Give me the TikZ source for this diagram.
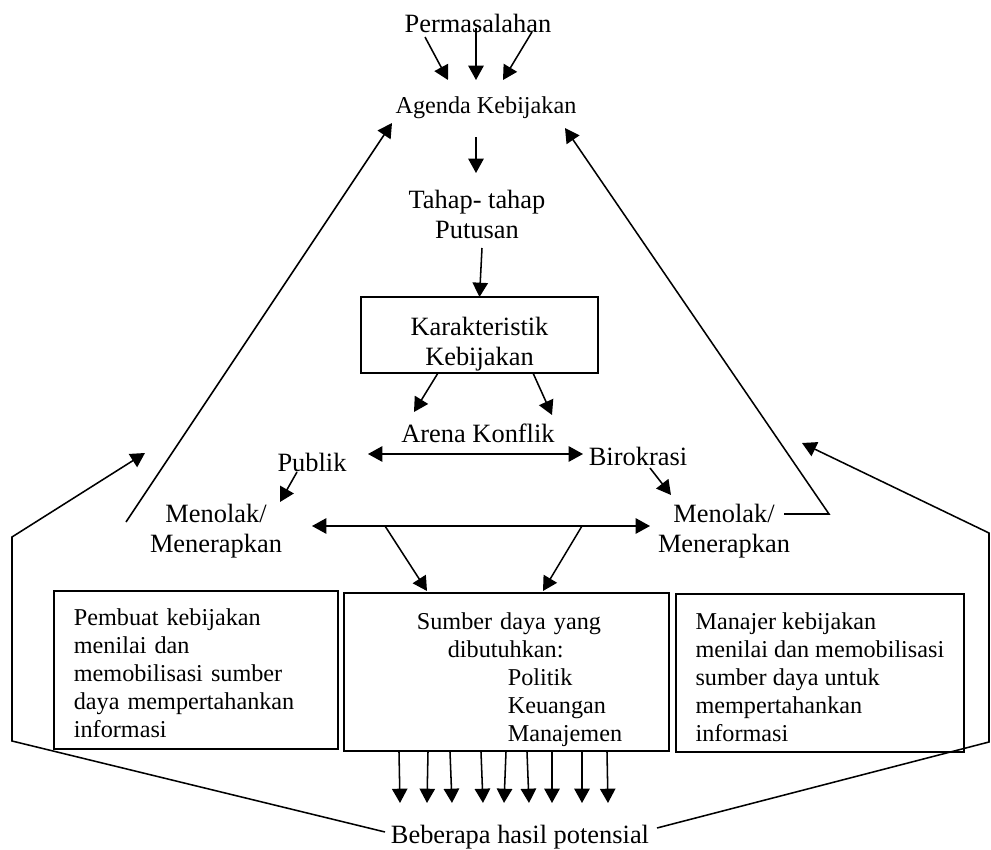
\documentclass[tikz,border=0pt]{standalone}
\usepackage{fontspec}
\setmainfont{Liberation Serif}
\usetikzlibrary{arrows.meta}
\usetikzlibrary{positioning}
\newlength\pxu
\setlength\pxu{0.4545pt}
\newcommand\topgap[1]{\rule{0pt}{#1\pxu}}

\begin{document}
\begin{tikzpicture}[x=0.4545pt, y=-0.4545pt,
    arr/.style={-{Triangle[length=6.5pt,width=7pt]}, line width=0.7pt},
    darr/.style={{Triangle[length=6.5pt,width=7pt]}-{Triangle[length=6.5pt,width=7pt]}, line width=0.7pt},
    lbl/.style={inner sep=0pt, align=center, font=\fontsize{12}{13.6}\selectfont},
    lblsmall/.style={inner sep=0pt, font=\fontsize{11}{12.7}\selectfont},
    box/.style={draw, line width=0.8pt, anchor=north west, align=left,
        minimum height=158\pxu, inner ysep=0pt, font=\fontsize{11}{12.7}\selectfont}]
    \useasboundingbox (0,0) rectangle (991,850);

    \node[lbl, anchor=base](perm) at (478,32){Permasalahan};
    \node[lblsmall, anchor=base](agenda) at (486,113){Agenda Kebijakan};
    \node[lbl, anchor=north](tahap) at (477,190){Tahap- tahap\\Putusan};
    \node[lbl, draw, line width=0.8pt, minimum width=237\pxu, minimum height=76\pxu](karakter) at (479.5,335){\topgap{36}Karakteristik\\Kebijakan};
    \node[lbl, anchor=base](arena) at (478,442){Arena Konflik};
    \node[lbl, anchor=base](publik) at (312,472){Publik};
    \node[lbl, anchor=base](birokrasi) at (638,465){Birokrasi};
    \node[lbl, anchor=north](tolakL) at (216,504){Menolak/\\Menerapkan};
    \node[lbl, anchor=north](tolakR) at (724,504){Menolak/\\Menerapkan};
    \node[box, text width=244\pxu, inner xsep=20\pxu](pembuat) at (53,590){\topgap{23}Pembuat kebijakan\\menilai dan\\memobilisasi sumber\\daya mempertahankan\\informasi};
    \node[box, text width=325\pxu, inner xsep=0pt](sumber) at (343,592){\hspace*{73\pxu}\topgap{33}Sumber daya yang\\\hspace*{104\pxu}dibutuhkan:\\\hspace*{164\pxu}Politik\\\hspace*{164\pxu}Keuangan\\\hspace*{164\pxu}Manajemen};
    \node[box, minimum width=288\pxu, inner xsep=0pt](manajer) at (675,593){\topgap{25}Manajer kebijakan\\menilai dan memobilisasi\\sumber daya untuk\\mempertahankan\\informasi};
    \node[lbl, anchor=base](hasil) at (520,843){Beberapa hasil potensial};

    \coordinate(permA) at (425,37);  \coordinate(agendaA) at (448,80);
    \coordinate(permB) at (476,28);  \coordinate(agendaB) at (476,80);
    \coordinate(permC) at (532,32);  \coordinate(agendaC) at (503,80);
    \draw[arr](permA)--(agendaA);
    \draw[arr](permB)--(agendaB);
    \draw[arr](permC)--(agendaC);

    \coordinate(agendaOut) at (476,137); \coordinate(tahapIn) at (476,173);
    \draw[arr](agendaOut)--(tahapIn);
    \coordinate(tahapOut) at (482,248);
    \draw[arr](tahapOut)--(484,297 -| karakter.north);

    \coordinate(karL) at (438,373); \coordinate(arenaL) at (414,412);
    \coordinate(karR) at (533,373); \coordinate(arenaR) at (552,415);
    \draw[arr](karL)--(arenaL);
    \draw[arr](karR)--(arenaR);

    \coordinate(konflikL) at (368,454); \coordinate(konflikR) at (583,454);
    \draw[darr](konflikL)--(konflikR);

    \coordinate(publikOut) at (297,472); \coordinate(tolakLIn) at (280,502);
    \coordinate(birokrasiOut) at (650,468); \coordinate(tolakRIn) at (671,495);
    \draw[arr](publikOut)--(tolakLIn);
    \draw[arr](birokrasiOut)--(tolakRIn);

    \coordinate(tolakLine) at (312,526); \coordinate(tolakLineR) at (650,526);
    \draw[darr](tolakLine)--(tolakLineR);
    \coordinate(dropL) at (385,526); \coordinate(sumberL) at (427,591);
    \coordinate(dropR) at (582,526); \coordinate(sumberR) at (543,591);
    \draw[arr](dropL)--(sumberL);
    \draw[arr](dropR)--(sumberR);

    \coordinate(backL) at (126,522); \coordinate(agendaL) at (392,123);
    \draw[arr](backL)--(agendaL);
    \coordinate(backR) at (784,514); \coordinate(backRcorner) at (829,514); \coordinate(agendaR) at (565,128);
    \draw[arr](backR)--(backRcorner)--(agendaR);

    \coordinate(hasilL) at (385,832); \coordinate(outL1) at (12,741); \coordinate(outL2) at (12,537); \coordinate(outLtip) at (145,453);
    \draw[arr](hasilL)--(outL1)--(outL2)--(outLtip);
    \coordinate(hasilR) at (657,828); \coordinate(outR1) at (989,742); \coordinate(outR2) at (989,533); \coordinate(outRtip) at (802,443);
    \draw[arr](hasilR)--(outR1)--(outR2)--(outRtip);

    \foreach \a/\b in {399/400,428/427,450/452,481/483,506/504,527/529,552/552,582/582,607/608}
        \draw[arr](sumber.south -| \a,0)--(\b,803);
\end{tikzpicture}
\end{document}
